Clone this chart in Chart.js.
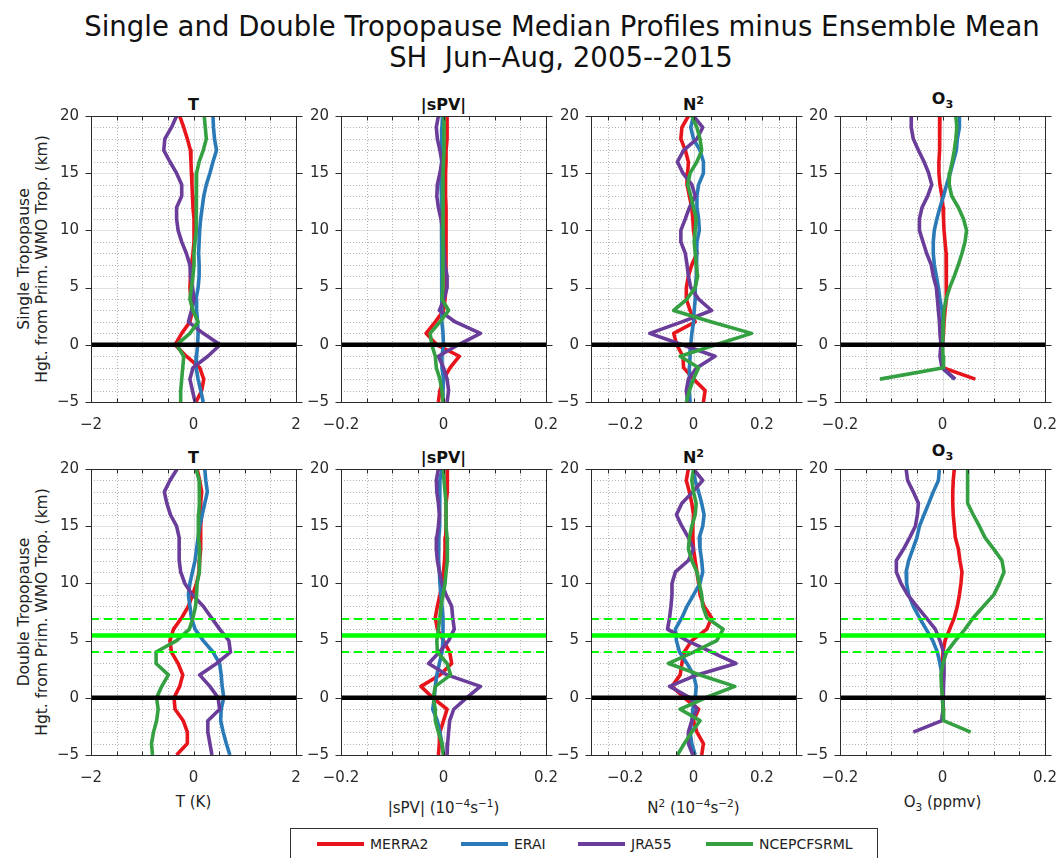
<!DOCTYPE html>
<html>
<head>
<meta charset="utf-8">
<script src="https://cdn.jsdelivr.net/npm/chart.js@4.4.1/dist/chart.umd.min.js"></script>
<style>
  html,body{margin:0;padding:0;background:#fff;}
  body{width:1061px;height:858px;position:relative;overflow:hidden;font-family:"DejaVu Sans",sans-serif;color:#222;}
  canvas{position:absolute;}
  .t{position:absolute;white-space:nowrap;line-height:1;}
  .c{transform:translateX(-50%);}
  .rot{transform:translate(-50%,-50%) rotate(-90deg);}
  .ptitle{font-weight:bold;font-size:16px;color:#111;}
  .xt{font-size:15px;color:#222;}
  sup,sub{font-size:70%;line-height:0;}
  #legend{position:absolute;left:290px;top:828px;width:586px;height:40px;border:1px solid #333;background:#fff;}
  .lgline{position:absolute;height:4px;width:47px;}
  .lgtext{position:absolute;font-size:14px;line-height:1;color:#222;}
</style>
</head>
<body>
<div id="title1" class="t c" style="left:562px;top:13px;font-size:26px;color:#111;">Single and Double Tropopause Median Profiles minus Ensemble Mean</div>
<div id="title2" class="t c" style="left:561px;top:44px;font-size:26px;color:#111;">SH&nbsp;&nbsp;Jun&#8211;Aug, 2005--2015</div>

<div class="t ptitle c" style="left:193.5px;top:97px;">T</div>
<div class="t ptitle c" style="left:443.5px;top:97px;">|sPV|</div>
<div class="t ptitle c" style="left:693.5px;top:97px;">N<sup>2</sup></div>
<div class="t ptitle c" style="left:942.5px;top:91px;">O<sub>3</sub></div>
<div class="t ptitle c" style="left:193.5px;top:450px;">T</div>
<div class="t ptitle c" style="left:443.5px;top:450px;">|sPV|</div>
<div class="t ptitle c" style="left:693.5px;top:450px;">N<sup>2</sup></div>
<div class="t ptitle c" style="left:942.5px;top:443px;">O<sub>3</sub></div>

<div class="t rot" style="left:25px;top:259px;font-size:15.5px;">Single Tropopause</div>
<div class="t rot" style="left:43px;top:259px;font-size:15.5px;">Hgt. from Prim. WMO Trop. (km)</div>
<div class="t rot" style="left:25px;top:612px;font-size:15.5px;">Double Tropopause</div>
<div class="t rot" style="left:43px;top:612px;font-size:15.5px;">Hgt. from Prim. WMO Trop. (km)</div>

<div class="t xt c" style="left:193.5px;top:795px;">T (K)</div>
<div class="t xt c" style="left:443.5px;top:801px;">|sPV| (10<sup>&#8722;4</sup>s<sup>&#8722;1</sup>)</div>
<div class="t xt c" style="left:693.5px;top:801px;">N<sup>2</sup> (10<sup>&#8722;4</sup>s<sup>&#8722;2</sup>)</div>
<div class="t xt c" style="left:942.5px;top:795px;">O<sub>3</sub> (ppmv)</div>

<div id="legend"></div>

<script>
// ---------------- DATA ----------------
const SERIES_NAMES = ['MERRA2', 'ERAI', 'JRA55', 'NCEPCFSRML'];
const LEVELS = [20,19,18,17,16,15,14,13,12,11,10,9,8,7,6,5,4,3,2,1,0,-1,-2,-3,-4,-5];
const O3_LEVELS = [20,19,18,17,16,15,14,13,12,11,10,9,8,7,6,5,4,3,2,1,0,-1,-2,-3];
const Y_TICKS = [-5, 0, 5, 10, 15, 20];
const TROP_LINE = [0];
const TROP2_MEAN = [5.45];
const TROP2_BOUNDS = [4.0, 6.88];

// Temperature (K), single tropopause
const T_SINGLE_MERRA2 = [-0.27,-0.19,-0.12,-0.06,-0.05,-0.04,-0.03,-0.02,-0.01,0.01,0.01,0.01,-0.01,-0.04,-0.06,-0.07,-0.05,-0.02,-0.07,-0.23,-0.36,-0.14,0.12,0.20,0.16,0.05];
const T_SINGLE_ERAI   = [0.38,0.39,0.41,0.45,0.38,0.32,0.25,0.20,0.17,0.14,0.12,0.11,0.10,0.11,0.11,0.09,0.05,0.06,0.08,0.09,0.08,0.06,0.05,0.09,0.14,0.19];
const T_SINGLE_JRA55  = [-0.33,-0.43,-0.56,-0.58,-0.46,-0.33,-0.23,-0.23,-0.33,-0.33,-0.30,-0.23,-0.14,-0.07,-0.06,-0.02,0.01,-0.04,-0.10,0.19,0.52,0.28,-0.01,-0.07,-0.02,0.03];
const T_SINGLE_NCEP   = [0.21,0.23,0.25,0.19,0.11,0.06,0.05,0.05,0.06,0.06,0.05,0.03,0.01,0.01,-0.01,-0.04,-0.07,-0.01,0.09,-0.07,-0.33,-0.19,-0.21,-0.23,-0.25,-0.25];

// |sPV| (1e-4 s-1), single
const SPV_SINGLE_MERRA2 = [0.007,0.007,0.007,0.005,0.005,0.004,0.004,0.004,0.005,0.005,0.005,0.005,0.005,0.005,0.005,0.005,0.003,0,-0.016,-0.034,-0.013,0.031,0.013,0,-0.007,-0.010];
const SPV_SINGLE_ERAI   = [-0.002,-0.003,-0.003,-0.004,-0.004,-0.005,-0.005,-0.004,-0.004,-0.003,-0.003,-0.003,-0.003,-0.003,-0.003,-0.004,-0.004,-0.003,-0.003,-0.001,0,-0.003,-0.003,0,-0.001,-0.001];
const SPV_SINGLE_JRA55  = [-0.010,-0.014,-0.012,-0.007,-0.003,-0.007,-0.012,-0.013,-0.010,-0.005,-0.001,0,0.001,0.003,0.007,0.007,0.001,-0.008,0.023,0.072,0.029,-0.010,0,0.007,0.010,0.007];
const SPV_SINGLE_NCEP   = [0.001,0.001,0.001,0.001,0,-0.001,-0.001,-0.001,-0.001,-0.001,-0.001,-0.001,-0.001,-0.001,-0.001,-0.001,-0.003,0.010,-0.007,-0.026,-0.023,-0.016,-0.014,-0.007,-0.003,-0.001];

// N^2 (1e-4 s-2), single
const N2_SINGLE_MERRA2 = [-0.015,-0.034,-0.037,-0.024,-0.015,-0.017,-0.019,-0.012,-0.005,-0.002,0,0.005,0.010,-0.005,-0.015,-0.021,-0.021,-0.010,0.005,-0.058,-0.049,-0.031,-0.029,0,0.034,0.029];
const N2_SINGLE_ERAI   = [0,-0.008,0,0.019,0.029,0.029,0.015,0.010,0.010,0.015,0.017,0.010,0.010,0.008,0.008,0.005,0.005,0.002,0,-0.005,-0.008,-0.010,-0.012,-0.012,-0.012,-0.010];
const N2_SINGLE_JRA55  = [0,0.027,0.010,-0.029,-0.047,-0.031,-0.005,0.005,-0.012,-0.024,-0.037,-0.037,-0.024,-0.019,-0.015,-0.008,0.015,0.053,-0.034,-0.128,-0.033,0.063,0.010,-0.015,-0.021,-0.017];
const N2_SINGLE_NCEP   = [-0.005,0.010,0.019,0.024,0.010,-0.010,-0.017,-0.008,0,0.008,0.005,0.002,0.005,0.008,0.012,0.005,-0.019,-0.058,0.053,0.170,0.065,-0.039,0.015,0,-0.012,-0.021];

// O3 (ppmv), single
const O3_SINGLE_MERRA2 = [-0.005,-0.005,-0.006,-0.006,-0.007,-0.007,-0.005,-0.001,0.001,0.002,0.003,0.005,0.007,0.007,0.008,0.008,0.007,0.005,0.003,0.002,0,-0.001,0.001,0.064];
const O3_SINGLE_ERAI   = [0.033,0.033,0.029,0.027,0.021,0.015,0.008,0.002,-0.005,-0.011,-0.016,-0.018,-0.018,-0.016,-0.012,-0.008,-0.005,-0.001,0,0,0,-0.001,-0.001,0.023];
const O3_SINGLE_JRA55  = [-0.061,-0.061,-0.057,-0.047,-0.036,-0.027,-0.021,-0.029,-0.040,-0.045,-0.045,-0.038,-0.031,-0.022,-0.018,-0.012,-0.010,-0.008,-0.006,-0.005,-0.003,-0.005,-0.001,0.025];
const O3_SINGLE_NCEP   = [0.026,0.028,0.026,0.023,0.019,0.014,0.013,0.018,0.031,0.041,0.047,0.044,0.038,0.031,0.023,0.014,0.007,0.003,0.002,0.001,0,0.001,0.002,-0.122];

// Temperature (K), double
const T_DOUBLE_MERRA2 = [0.07,0.12,0.16,0.14,0.16,0.14,0.14,0.14,0.12,0.11,0.06,-0.02,-0.10,-0.23,-0.39,-0.46,-0.43,-0.30,-0.21,-0.27,-0.38,-0.36,-0.20,-0.12,-0.12,-0.33];
const T_DOUBLE_ERAI   = [0.22,0.24,0.27,0.22,0.17,0.12,0.09,0.06,0.03,-0.02,-0.07,-0.10,-0.07,-0.04,0.03,0.19,0.38,0.51,0.54,0.56,0.59,0.54,0.53,0.58,0.64,0.71];
const T_DOUBLE_JRA55  = [-0.32,-0.46,-0.57,-0.52,-0.45,-0.33,-0.28,-0.28,-0.28,-0.25,-0.17,-0.02,0.19,0.35,0.51,0.69,0.72,0.45,0.12,0.32,0.48,0.51,0.28,0.28,0.32,0.36];
const T_DOUBLE_NCEP   = [0.05,0.11,0.12,0.11,0.10,0.09,0.10,0.12,0.12,0.11,0.07,0.06,0.04,-0.01,-0.08,-0.33,-0.73,-0.73,-0.49,-0.62,-0.72,-0.69,-0.72,-0.78,-0.82,-0.80];

// |sPV|, double
const SPV_DOUBLE_MERRA2 = [0.007,0.008,0.007,0.005,0.005,0.005,0.004,0.003,0.002,0,-0.003,-0.007,-0.012,-0.016,-0.012,0,0.012,0.016,-0.007,-0.044,-0.021,0.007,0,-0.007,-0.008,-0.010];
const SPV_DOUBLE_ERAI   = [-0.003,-0.007,-0.008,-0.007,-0.007,-0.008,-0.009,-0.010,-0.009,-0.008,-0.007,-0.005,-0.003,-0.001,-0.001,-0.001,-0.003,-0.008,-0.013,-0.016,-0.018,-0.021,-0.012,-0.007,-0.003,0];
const SPV_DOUBLE_JRA55  = [-0.010,-0.014,-0.013,-0.010,-0.008,-0.010,-0.013,-0.014,-0.012,-0.008,-0.003,0.005,0.016,0.018,0.021,0.010,-0.008,-0.029,0.007,0.072,0.045,0.020,0.012,0.010,0.008,0.007];
const SPV_DOUBLE_NCEP   = [0,0.001,0.003,0.005,0.005,0.005,0.007,0.008,0.007,0.005,0.003,-0.001,-0.005,-0.007,-0.010,-0.013,-0.012,0.007,0.014,-0.016,-0.020,-0.016,-0.016,-0.010,-0.003,0];

// N^2, double
const N2_DOUBLE_MERRA2 = [-0.015,-0.021,-0.012,-0.005,0,-0.002,-0.002,0,0.005,0.010,0.015,0.019,0.031,0.053,0.039,-0.005,-0.027,-0.034,-0.039,-0.063,-0.027,0.015,0,0.010,0.029,0.024];
const N2_DOUBLE_ERAI   = [0,0.005,0.015,0.024,0.031,0.027,0.017,0.019,0.024,0.027,0.019,0,-0.019,-0.034,-0.053,-0.050,-0.041,-0.019,0,0.008,0.005,-0.002,-0.005,-0.010,-0.005,0.005];
const N2_DOUBLE_JRA55  = [0,0.027,-0.002,-0.034,-0.050,-0.034,-0.015,0,-0.015,-0.053,-0.063,-0.063,-0.066,-0.070,-0.076,-0.019,0.053,0.124,0.010,-0.070,-0.010,0.010,-0.005,-0.015,-0.015,-0.002];
const N2_DOUBLE_NCEP   = [0,-0.005,0,0.008,0.005,-0.005,-0.012,-0.015,-0.005,0.010,0.017,0.024,0.027,0.039,0.087,0.068,0,-0.073,0.019,0.121,0.035,-0.039,0.019,-0.005,-0.027,-0.047];

// O3, double
const O3_DOUBLE_MERRA2 = [0.023,0.021,0.020,0.020,0.021,0.023,0.025,0.031,0.034,0.038,0.036,0.033,0.029,0.023,0.014,0.005,0.001,-0.001,-0.001,0,0,0.002,-0.001,null];
const O3_DOUBLE_ERAI   = [-0.006,-0.008,-0.018,-0.027,-0.036,-0.045,-0.050,-0.058,-0.066,-0.071,-0.070,-0.066,-0.057,-0.045,-0.032,-0.019,-0.010,-0.005,-0.001,0,0,0.001,-0.001,null];
const O3_DOUBLE_JRA55  = [-0.071,-0.068,-0.057,-0.047,-0.049,-0.053,-0.064,-0.076,-0.090,-0.090,-0.081,-0.068,-0.050,-0.032,-0.014,-0.005,0.002,0.003,0.003,0.002,0.001,0.001,-0.001,-0.057];
const O3_DOUBLE_NCEP   = [0.049,0.049,0.049,0.049,0.060,0.072,0.083,0.100,0.116,0.120,0.111,0.100,0.080,0.060,0.044,0.025,0.008,0.001,-0.003,-0.002,0,0.001,0.002,0.055];

// ---------------- STYLE / LAYOUT ----------------
const SERIES_COLORS = ['#e8141c', '#2a7ab8', '#6a3d9a', '#35a042'];
const FONT = '"DejaVu Sans", sans-serif';
const PANEL_LEFT = [91, 341, 591, 840];
const PANEL_TOP = [116, 469];
const PANEL_W = 205, PANEL_H = 286;
const YW = 46, PR = 30, PT = 24, XH = 40;

const PANELS = [
  {xmin:-2, xmax:2, minor:0.5, labels:[-2,0,2], levels:LEVELS,
   rows:[[T_SINGLE_MERRA2,T_SINGLE_ERAI,T_SINGLE_JRA55,T_SINGLE_NCEP],[T_DOUBLE_MERRA2,T_DOUBLE_ERAI,T_DOUBLE_JRA55,T_DOUBLE_NCEP]]},
  {xmin:-0.2, xmax:0.2, minor:0.05, labels:[-0.2,0,0.2], levels:LEVELS,
   rows:[[SPV_SINGLE_MERRA2,SPV_SINGLE_ERAI,SPV_SINGLE_JRA55,SPV_SINGLE_NCEP],[SPV_DOUBLE_MERRA2,SPV_DOUBLE_ERAI,SPV_DOUBLE_JRA55,SPV_DOUBLE_NCEP]]},
  {xmin:-0.3, xmax:0.3, minor:0.05, labels:[-0.2,0,0.2], levels:LEVELS,
   rows:[[N2_SINGLE_MERRA2,N2_SINGLE_ERAI,N2_SINGLE_JRA55,N2_SINGLE_NCEP],[N2_DOUBLE_MERRA2,N2_DOUBLE_ERAI,N2_DOUBLE_JRA55,N2_DOUBLE_NCEP]]},
  {xmin:-0.2, xmax:0.2, minor:0.05, labels:[-0.2,0,0.2], levels:O3_LEVELS,
   rows:[[O3_SINGLE_MERRA2,O3_SINGLE_ERAI,O3_SINGLE_JRA55,O3_SINGLE_NCEP],[O3_DOUBLE_MERRA2,O3_DOUBLE_ERAI,O3_DOUBLE_JRA55,O3_DOUBLE_NCEP]]}
];

function fmt(v){
  if (Math.abs(v) < 1e-12) return '0';
  return (v < 0 ? '\u2212' : '') + String(Math.round(Math.abs(v)*1000)/1000);
}

const framePlugin = {
  id: 'frame',
  beforeDatasetsDraw(chart, args, o){
    const ctx = chart.ctx, a = chart.chartArea, xs = chart.scales.x, ys = chart.scales.y;
    ctx.save();
    ctx.lineWidth = 1;
    for (let k = -5; k <= 20; k++) {
      const py = Math.round(ys.getPixelForValue(k)) + 0.5;
      if (k % 5 === 0) { ctx.setLineDash([]); ctx.strokeStyle = '#e2e2e2'; }
      else { ctx.setLineDash([1, 2]); ctx.strokeStyle = '#b5b5b5'; }
      ctx.beginPath(); ctx.moveTo(a.left, py); ctx.lineTo(a.right, py); ctx.stroke();
    }
    const n = Math.round((o.xmax - o.xmin) / o.minor);
    for (let i = 0; i <= n; i++) {
      const v = o.xmin + i * o.minor;
      const major = o.labels.some(l => Math.abs(l - v) < 1e-9);
      const px = Math.round(xs.getPixelForValue(v)) + 0.5;
      if (major) { ctx.setLineDash([]); ctx.strokeStyle = '#e2e2e2'; }
      else { ctx.setLineDash([1, 2]); ctx.strokeStyle = '#b5b5b5'; }
      ctx.beginPath(); ctx.moveTo(px, a.top); ctx.lineTo(px, a.bottom); ctx.stroke();
    }
    ctx.restore();
  },
  afterDatasetsDraw(chart, args, o){
    const ctx = chart.ctx, a = chart.chartArea, xs = chart.scales.x, ys = chart.scales.y;
    ctx.save();
    ctx.setLineDash([]);
    ctx.strokeStyle = '#2b2b2b';
    ctx.lineWidth = 1;
    const L = Math.round(a.left) + 0.5, R = Math.round(a.right) + 0.5;
    const T = Math.round(a.top) + 0.5, B = Math.round(a.bottom) + 0.5;
    ctx.strokeRect(L, T, R - L, B - T);
    ctx.beginPath();
    Y_TICKS.forEach(k => {
      const py = Math.round(ys.getPixelForValue(k)) + 0.5;
      ctx.moveTo(L - 6, py); ctx.lineTo(L, py);
      ctx.moveTo(R, py); ctx.lineTo(R + 6, py);
    });
    const n = Math.round((o.xmax - o.xmin) / o.minor);
    for (let i = 0; i <= n; i++) {
      const px = Math.round(xs.getPixelForValue(o.xmin + i * o.minor)) + 0.5;
      ctx.moveTo(px, B); ctx.lineTo(px, B - 4);
      ctx.moveTo(px, T); ctx.lineTo(px, T + 4);
    }
    ctx.stroke();
    ctx.restore();
  }
};

function hline(yv, p, color, width, dash, order){
  return {data:[{x:p.xmin, y:yv}, {x:p.xmax, y:yv}], borderColor:color, borderWidth:width,
          borderDash:dash, pointRadius:0, showLine:true, fill:false, order:order, borderCapStyle:'butt'};
}

function makePanel(col, row){
  const p = PANELS[col];
  const cv = document.createElement('canvas');
  const w = YW + PANEL_W + PR, h = PT + PANEL_H + XH;
  cv.width = w; cv.height = h;
  cv.style.width = w + 'px'; cv.style.height = h + 'px';
  cv.style.left = (PANEL_LEFT[col] - YW) + 'px';
  cv.style.top = (PANEL_TOP[row] - PT) + 'px';
  document.body.appendChild(cv);

  const datasets = p.rows[row].map((arr, i) => ({
    label: SERIES_NAMES[i],
    data: p.levels.map((lev, j) => (arr[j] == null ? null : {x: arr[j], y: lev})).filter(d => d),
    borderColor: SERIES_COLORS[i], borderWidth: 3.6, pointRadius: 0, showLine: true, fill: false,
    tension: 0, borderJoinStyle: 'round', order: 10 - i
  }));
  TROP_LINE.forEach(v => datasets.push(hline(v, p, '#000000', 4.5, [], 0)));
  if (row === 1) {
    TROP2_MEAN.forEach(v => datasets.push(hline(v, p, '#00ff00', 4.5, [], 1)));
    TROP2_BOUNDS.forEach(v => datasets.push(hline(v, p, '#00ff00', 2, [8, 5], 1)));
  }

  new Chart(cv, {
    type: 'scatter',
    data: {datasets},
    options: {
      responsive: false, animation: false, devicePixelRatio: 1,
      layout: {padding: {left: 0, right: PR, top: PT, bottom: 0}},
      plugins: {legend: {display: false}, tooltip: {enabled: false},
                frame: {xmin: p.xmin, xmax: p.xmax, minor: p.minor, labels: p.labels}},
      scales: {
        x: {type: 'linear', min: p.xmin, max: p.xmax,
            afterBuildTicks: s => { s.ticks = p.labels.map(v => ({value: v})); },
            afterFit: s => { s.height = XH; },
            ticks: {padding: 6, font: {family: FONT, size: 15}, color: '#2a2a2a', maxRotation: 0, minRotation: 0, autoSkip: false, callback: v => fmt(v)},
            grid: {display: false}, border: {display: false}},
        y: {type: 'linear', min: -5, max: 20,
            afterBuildTicks: s => { s.ticks = Y_TICKS.map(v => ({value: v})); },
            afterFit: s => { s.width = YW; },
            ticks: {padding: 4, font: {family: FONT, size: 15}, color: '#2a2a2a', autoSkip: false, callback: v => fmt(v)},
            grid: {display: false}, border: {display: false}}
      }
    },
    plugins: [framePlugin]
  });
}

for (let r = 0; r < 2; r++) for (let c = 0; c < 4; c++) makePanel(c, r);

// legend
const LEG_LINE_X = [317, 461, 578, 706];
const lg = document.getElementById('legend');
SERIES_NAMES.forEach((name, i) => {
  const ln = document.createElement('div');
  ln.className = 'lgline';
  ln.style.left = (LEG_LINE_X[i] - 291) + 'px';
  ln.style.top = '13px';
  ln.style.background = SERIES_COLORS[i];
  lg.appendChild(ln);
  const tx = document.createElement('div');
  tx.className = 'lgtext';
  tx.textContent = name;
  tx.style.left = (LEG_LINE_X[i] - 291 + 53) + 'px';
  tx.style.top = '8px';
  lg.appendChild(tx);
});

// fit the main title to the reference width
(function(){
  const t1 = document.getElementById('title1'), t2 = document.getElementById('title2');
  const w = t1.getBoundingClientRect().width;
  const fs = 26 * 956 / w;
  t1.style.fontSize = fs + 'px';
  t2.style.fontSize = fs + 'px';
})();
</script>
</body>
</html>
